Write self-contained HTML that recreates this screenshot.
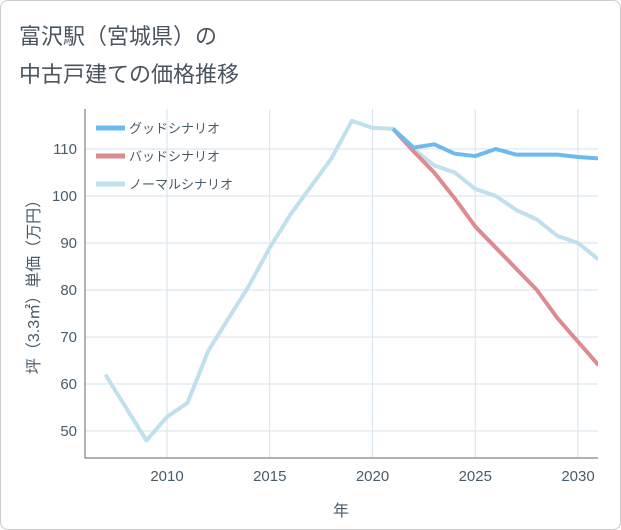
<!DOCTYPE html>
<html><head><meta charset="utf-8"><style>
body{margin:0;background:#fff;font-family:"Liberation Sans","Noto Sans CJK JP",sans-serif;}
#wrap{position:relative;width:619px;height:528px;border:1px solid #ccc;border-radius:8px;background:#fff;overflow:hidden}
.title{position:absolute;left:18px;font-size:22px;color:#4a5560}
</style></head><body>
<div id="wrap">
<div class="title" style="top:18px">富沢駅（宮城県）の</div>
<div class="title" style="top:56px">中古戸建ての価格推移</div>
<svg id="chart" width="621" height="530" style="position:absolute;left:0;top:0"></svg>
</div>
<script>
const years=[2007,2008,2009,2010,2011,2012,2013,2014,2015,2016,2017,2018,2019,2020,2021,2022,2023,2024,2025,2026,2027,2028,2029,2030,2031];
const normal=[62,55,48,53,56,67,74,81,89,96,102,108,116,114.5,114.3,110,106.5,105,101.5,100,97,95,91.5,90,86.5];
const goodYears=[2021,2022,2023,2024,2025,2026,2027,2028,2029,2030,2031];
const good=[114.3,110.3,111,109,108.5,110,108.8,108.8,108.8,108.3,108];
const bad=[114.3,109.5,105,99.5,93.5,89,84.5,80,74,69,64];
const xTicks=[2010,2015,2020,2025,2030];
const yTicks=[50,60,70,80,90,100,110];
const NS="http://www.w3.org/2000/svg";
const svg=document.getElementById('chart');
const L=84,R=597,T=108,B=457;
const TXT='#4a5b68';
const x=v=>166+(v-2010)*20.55;
const y=v=>430-(v-50)*4.7;
function mk(t,a){const e=document.createElementNS(NS,t);for(const k in a)e.setAttribute(k,a[k]);svg.appendChild(e);return e;}
for(const t of xTicks){const l=mk('line',{x1:x(t),x2:x(t),y1:T,y2:B,stroke:'#d5e3ec','stroke-width':1});


const tx=mk('text',{x:x(t),y:480,'text-anchor':'middle','font-size':15,fill:TXT});tx.textContent=t;

}
for(const t of yTicks){const l=mk('line',{x1:L,x2:R,y1:y(t),y2:y(t),stroke:'#d5e3ec','stroke-width':1});


const tx=mk('text',{x:76,y:y(t)+5,'text-anchor':'end','font-size':15,fill:TXT});tx.textContent=t;

}
const ax=mk('path',{d:`M${L} ${T}V${B}H${R}`,fill:'none',stroke:'#666','stroke-width':1});


const clip=mk('clipPath',{id:'c'});const cr=document.createElementNS(NS,'rect');
cr.setAttribute('x',L);cr.setAttribute('y',T);cr.setAttribute('width',R-L);cr.setAttribute('height',B-T);clip.appendChild(cr);
function line(xs,vs,c,name){const p=mk('polyline',{points:xs.map((v,i)=>x(v)+','+y(vs[i])).join(' '),fill:'none',stroke:c,'stroke-width':4,'stroke-linejoin':'round','clip-path':'url(#c)'});

}
line(years,normal,'#c0e0ee','normal-scenario-line');
line(goodYears,bad,'#dd8a90','bad-scenario-line');
line(goodYears,good,'#6cbaf0','good-scenario-line');
const leg=[['グッドシナリオ','#6cbaf0'],['バッドシナリオ','#dd8a90'],['ノーマルシナリオ','#c0e0ee']];
leg.forEach((d,i)=>{const yy=127+i*28;
const l=mk('line',{x1:95,x2:124,y1:yy,y2:yy,stroke:d[1],'stroke-width':5});


const t=mk('text',{x:128,y:yy+5,'font-size':13,fill:TXT});t.textContent=d[0];

});
const xt=mk('text',{x:340,y:515,'text-anchor':'middle','font-size':16,fill:TXT});xt.textContent='年';


const yt=mk('text',{x:0,y:0,'text-anchor':'middle','font-size':16,fill:TXT,transform:'translate(38,282) rotate(-90)'});yt.textContent='坪（3.3㎡）単価（万円）';


</script>
</body></html>
